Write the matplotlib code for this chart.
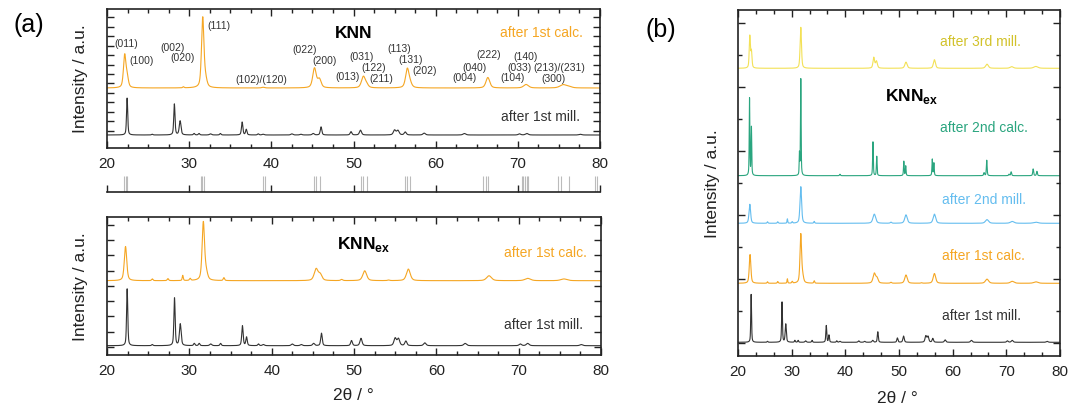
import numpy as np
import matplotlib.pyplot as plt
from matplotlib.ticker import MultipleLocator, AutoMinorLocator, FixedLocator

plt.rcParams['font.family'] = ['Liberation Sans', 'DejaVu Sans']
plt.rcParams['mathtext.fontset'] = 'custom'
plt.rcParams['mathtext.rm'] = 'Liberation Sans'
plt.rcParams['mathtext.bf'] = 'Liberation Sans:bold'

# peak lists: (2theta, relative height, fwhm)
mill1 = [(22.45, 1.00, 0.17), (25.5, 0.02, 0.2), (28.2, 0.84, 0.18), (28.9, 0.38, 0.25),
         (30.6, 0.04, 0.2), (31.2, 0.04, 0.2), (32.6, 0.03, 0.3), (33.8, 0.04, 0.2),
         (36.45, 0.35, 0.2), (36.95, 0.15, 0.2), (38.4, 0.03, 0.2), (39.0, 0.02, 0.3),
         (42.5, 0.03, 0.3), (43.6, 0.02, 0.3), (45.1, 0.04, 0.3), (46.05, 0.22, 0.22),
         (49.7, 0.09, 0.25), (50.85, 0.13, 0.3), (55.0, 0.13, 0.35), (55.4, 0.12, 0.35),
         (56.3, 0.08, 0.3), (58.6, 0.05, 0.35), (63.5, 0.04, 0.4), (70.2, 0.03, 0.35),
         (71.1, 0.04, 0.4), (77.6, 0.02, 0.4)]

calc1_knn = [(22.15, 0.46, 0.35), (22.45, 0.15, 0.35), (29.3, 0.015, 0.2), (31.65, 1.00, 0.35),
             (32.0, 0.10, 0.4), (39.0, 0.01, 0.4), (45.25, 0.28, 0.5), (45.85, 0.12, 0.5),
             (51.2, 0.16, 0.55), (51.6, 0.04, 0.5), (56.55, 0.27, 0.5), (56.9, 0.05, 0.5),
             (66.35, 0.15, 0.55), (71.0, 0.05, 0.7), (75.5, 0.045, 0.9), (76.2, 0.02, 0.8)]

calc1_ex = [(22.25, 0.59, 0.35), (25.5, 0.03, 0.2), (27.4, 0.035, 0.2), (29.2, 0.09, 0.15),
            (30.1, 0.035, 0.2), (31.7, 1.00, 0.35), (32.05, 0.12, 0.4), (34.2, 0.05, 0.2),
            (45.4, 0.20, 0.55), (45.9, 0.10, 0.5), (48.5, 0.02, 0.3), (51.3, 0.17, 0.55),
            (54.2, 0.01, 0.3), (56.6, 0.20, 0.55), (66.4, 0.085, 0.7), (71.1, 0.04, 0.8),
            (75.5, 0.03, 0.9)]

mill2_ex = [(22.2, 0.52, 0.35), (25.5, 0.04, 0.2), (27.4, 0.04, 0.2), (29.2, 0.12, 0.15),
            (30.1, 0.04, 0.2), (31.7, 1.00, 0.35), (34.2, 0.05, 0.2), (45.4, 0.25, 0.6),
            (48.5, 0.03, 0.3), (51.3, 0.23, 0.55), (56.6, 0.25, 0.55), (66.4, 0.10, 0.7),
            (71.1, 0.05, 0.8), (75.5, 0.03, 1.0)]

calc2_ex = [(22.15, 0.80, 0.14), (22.5, 0.50, 0.14), (31.45, 0.22, 0.12), (31.7, 1.00, 0.14),
            (39.0, 0.015, 0.2), (45.15, 0.35, 0.15), (45.85, 0.20, 0.15), (50.9, 0.15, 0.15),
            (51.25, 0.10, 0.15), (56.2, 0.17, 0.15), (56.5, 0.13, 0.15), (65.85, 0.03, 0.2),
            (66.35, 0.16, 0.17), (70.5, 0.015, 0.2), (70.9, 0.04, 0.2), (75.0, 0.07, 0.2),
            (75.7, 0.045, 0.2)]

mill3_ex = [(22.2, 0.78, 0.25), (22.5, 0.40, 0.25), (31.7, 1.00, 0.3), (45.3, 0.26, 0.35),
            (45.8, 0.17, 0.4), (51.3, 0.15, 0.5), (56.6, 0.21, 0.45), (66.4, 0.10, 0.6),
            (71.0, 0.04, 0.7), (75.5, 0.045, 0.9)]

# reference reflections (stick pattern)
ref_sticks = [22.07, 22.31, 22.47, 31.44, 31.60, 31.76, 39.03, 39.23, 45.23, 45.44, 45.92,
              50.87, 51.20, 51.60, 56.27, 56.47, 56.87, 65.80, 66.10, 66.40, 70.47, 70.67,
              70.87, 71.07, 71.27, 74.93, 75.20, 76.26, 79.39, 79.60]

# hkl labels: text, 2theta, height
hkl_labels = [('(011)', 22.3, 105), ('(100)', 24.15, 88), ('(002)', 28.0, 101), ('(020)', 29.25, 91),
              ('(111)', 33.6, 123), ('(102)/(120)', 38.75, 69), ('(022)', 44.1, 99), ('(200)', 46.5, 88),
              ('(013)', 49.3, 72), ('(031)', 51.0, 92), ('(122)', 52.4, 81), ('(211)', 53.35, 70),
              ('(113)', 55.55, 100), ('(131)', 56.9, 89), ('(202)', 58.6, 78), ('(222)', 66.4, 94),
              ('(040)', 64.7, 81), ('(004)', 63.55, 71), ('(140)', 71.0, 92), ('(033)', 70.25, 81),
              ('(104)', 69.3, 71), ('(213)/(231)', 75.0, 81), ('(300)', 74.4, 70)]

ORANGE = '#F5A623'
BLACK = '#333333'
BLUE = '#64BDEF'
GREEN = '#2AA57F'
YELLOW = '#F3E156'
YELLOW_TXT = '#D2C22A'

x = np.linspace(20, 80, 4000)


def profile(peaks, scale, base):
    y = np.zeros_like(x)
    for c, h, w in peaks:
        d = (x - c) / (w / 2)
        y += h * (0.5 / (1 + d**2) + 0.5 * np.exp(-np.log(2) * d**2))
    return base + scale * y


def style(ax, nminor, yticks, ymax, yminor=None):
    ax.set_xlim(20, 80)
    ax.set_ylim(0, ymax)
    ax.xaxis.set_major_locator(MultipleLocator(10))
    ax.xaxis.set_minor_locator(AutoMinorLocator(nminor))
    ax.yaxis.set_major_locator(FixedLocator(yticks))
    if yminor is not None:
        ax.yaxis.set_minor_locator(FixedLocator(yminor))
    ax.tick_params(which='both', direction='in', top=True, right=True, labelleft=False,
                   color='#222222', labelcolor='#222222', labelsize=11, width=1, pad=6)
    ax.tick_params(which='major', length=5)
    ax.tick_params(which='minor', length=3)
    for s in ax.spines.values():
        s.set_linewidth(1.2)
        s.set_color('#222222')


W, H = 1069, 406
fig = plt.figure(figsize=(W / 100, H / 100), dpi=100)

ax_top = fig.add_axes([107 / W, 1 - 149 / H, 493 / W, 139 / H])
ax_stk = fig.add_axes([107 / W, 1 - 193 / H, 493 / W, 20 / H])
ax_bot = fig.add_axes([107 / W, 1 - 356 / H, 494 / W, 138 / H])
ax_b = fig.add_axes([738 / W, 1 - 357 / H, 322 / W, 346 / H])

# (a) top: KNN
ax_top.plot(x, profile(mill1, 37, 13), color=BLACK, lw=0.8)
ax_top.plot(x, profile(calc1_knn, 70, 60), color=ORANGE, lw=0.8)
style(ax_top, 4, 17.3 + 9.45 * np.arange(13), 139)
for t, xx, yy in hkl_labels:
    ax_top.text(xx, yy, t, fontsize=7.5, color='#333333', ha='center', va='center')
ax_top.text(50, 116, 'KNN', fontsize=12.5, fontweight='bold', ha='center', va='center')
ax_top.text(77.95, 116, 'after 1st calc.', color=ORANGE, fontsize=10, ha='right', va='center')
ax_top.text(77.6, 32, 'after 1st mill.', color=BLACK, fontsize=10, ha='right', va='center')

# stick pattern
ax_stk.vlines(ref_sticks, 0, 0.8, color='#BBBBBB', lw=0.8)
ax_stk.set_xlim(20, 80)
ax_stk.set_ylim(0, 1)
ax_stk.xaxis.set_major_locator(MultipleLocator(10))
ax_stk.set_yticks([])
ax_stk.tick_params(axis='x', direction='in', length=5, width=1, color='#222222', labelbottom=False)
for side in ['top', 'left', 'right']:
    ax_stk.spines[side].set_visible(False)
ax_stk.spines['bottom'].set_linewidth(1.2)
ax_stk.spines['bottom'].set_color('#222222')
ax_stk.patch.set_alpha(0)

# (a) bottom: KNN_ex
ax_bot.plot(x, profile(mill1, 57, 9.3), color=BLACK, lw=0.8)
ax_bot.plot(x, profile(calc1_ex, 58, 74.3), color=ORANGE, lw=0.8)
style(ax_bot, 4, 8 + 15.3 * np.arange(9), 138)
ax_bot.text(51.2, 111, r'$\mathbf{KNN}_{\mathbf{ex}}$', fontsize=12.5, ha='center', va='center')
ax_bot.text(78.25, 103, 'after 1st calc.', color=ORANGE, fontsize=10, ha='right', va='center')
ax_bot.text(77.8, 31, 'after 1st mill.', color=BLACK, fontsize=10, ha='right', va='center')

# (b)
ax_b.plot(x, profile(mill1, 48, 13.7), color=BLACK, lw=0.8)
ax_b.plot(x, profile(calc1_ex, 48.7, 72.7), color=ORANGE, lw=0.8)
ax_b.plot(x, profile(mill2_ex, 36.6, 132.7), color=BLUE, lw=0.8)
ax_b.plot(x, profile(calc2_ex, 96.7, 180.3), color=GREEN, lw=0.8)
ax_b.plot(x, profile(mill3_ex, 41, 287.7), color=YELLOW, lw=0.8)
yt = 13 + 32 * np.arange(11)
style(ax_b, 3, yt[::2], 346, yt[1::2])
ax_b.text(57.6, 315.3, 'after 3rd mill.', color=YELLOW_TXT, fontsize=10, ha='left', va='center')
ax_b.text(52.4, 260, r'$\mathbf{KNN}_{\mathbf{ex}}$', fontsize=12.5, ha='center', va='center')
ax_b.text(57.6, 229, 'after 2nd calc.', color=GREEN, fontsize=10, ha='left', va='center')
ax_b.text(58.1, 157, 'after 2nd mill.', color=BLUE, fontsize=10, ha='left', va='center')
ax_b.text(58.1, 101, 'after 1st calc.', color=ORANGE, fontsize=10, ha='left', va='center')
ax_b.text(58.1, 41.3, 'after 1st mill.', color=BLACK, fontsize=10, ha='left', va='center')

# axis labels and panel letters
lab = dict(fontsize=12.5, color='#222222', ha='center', va='center')
fig.text(80 / W, 1 - 79 / H, 'Intensity / a.u.', rotation=90, **lab)
fig.text(80 / W, 1 - 287 / H, 'Intensity / a.u.', rotation=90, **lab)
fig.text(712 / W, 1 - 184 / H, 'Intensity / a.u.', rotation=90, **lab)
fig.text(353 / W, 1 - 396 / H, '2θ / °', **lab)
fig.text(897 / W, 1 - 399 / H, '2θ / °', **lab)
fig.text(29 / W, 1 - 25 / H, '(a)', fontsize=18, ha='center', va='center')
fig.text(661 / W, 1 - 30 / H, '(b)', fontsize=18, ha='center', va='center')

fig.savefig('out.png', dpi=100)
